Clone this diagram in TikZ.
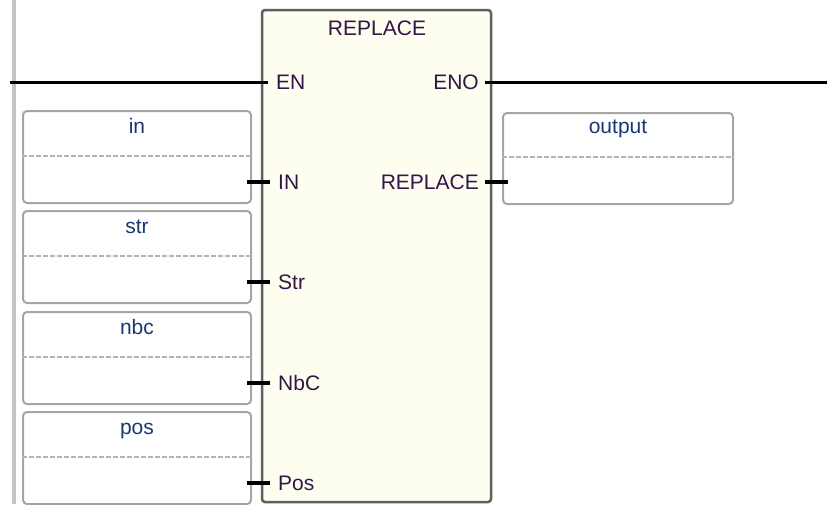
\documentclass[tikz,border=0pt]{standalone}
\usepackage{fontspec}
\setmainfont{Liberation Sans}
\usetikzlibrary{calc}
\definecolor{railgray}{RGB}{196,196,196}
\definecolor{boxgray}{RGB}{165,165,165}
\definecolor{dashgray}{RGB}{180,180,180}
\definecolor{blockborder}{RGB}{95,95,95}
\definecolor{blockfill}{RGB}{254,254,240}
\definecolor{pintext}{RGB}{50,20,70}
\definecolor{vartext}{RGB}{25,55,115}
\begin{document}
\begin{tikzpicture}[x=1pt,y=-1pt,
  font=\fontsize{21}{25}\selectfont,
  rail/.style={draw=railgray,line width=4pt},
  wire/.style={draw=black,line width=3pt},
  stub/.style={draw=black,line width=3.5pt},
  fblock/.style={draw=blockborder,fill=blockfill,line width=2.5pt,rounded corners=3pt,inner sep=0pt},
  varbox/.style={draw=boxgray,line width=2pt,rounded corners=4pt,minimum width=228pt,minimum height=92pt,inner sep=0pt},
  dashline/.style={draw=dashgray,line width=2pt,dash pattern=on 5pt off 2pt},
  pinlbl/.style={text=pintext,inner sep=0pt},
  varlbl/.style={text=vartext,inner sep=0pt,anchor=base}]
\useasboundingbox (0,0) rectangle (827,504);
\clip (0,0) rectangle (827,504);
% power rail
\coordinate (railtop) at (14,0);
\coordinate (railbot) at (14,504);
\draw[rail] (railtop) -- (railbot);
% function block
\node[fblock,minimum width=229pt,minimum height=492pt] (fb) at (376.5,256) {};
\node[pinlbl,anchor=base] (ttl) at (377,35) {REPLACE};
% EN / ENO
\node[pinlbl,anchor=base west] (en) at (276,89.5) {EN};
\node[pinlbl,anchor=base east] (eno) at (479,89.5) {ENO};
\coordinate (enstart) at (10,82);
\coordinate (enpin) at (268,82);
\coordinate (enopin) at (485,82);
\coordinate (enoend) at (827,82);
\draw[wire] (enstart) -- (enpin);
\draw[wire] (enopin) -- (enoend);
% input variables
\foreach \nm/\lbl/\top/\pin in {vin/in/110/IN, vstr/str/210/Str, vnbc/nbc/311/NbC, vpos/pos/411/Pos}{
  \node[varbox,anchor=north west] (\nm) at (22,\top) {};
  \node[varlbl] (\nm-l) at ($(\nm.north)+(0,23)$) {\lbl};
  \draw[dashline] ($(\nm.north west)+(0,46)$) -- ($(\nm.north east)+(0,46)$);
  \coordinate (\nm-s) at ($(\nm.north east)+(-5,72)$);
  \coordinate (\nm-e) at ($(\nm.north east)+(18,72)$);
  \draw[stub] (\nm-s) -- (\nm-e);
  \node[pinlbl,anchor=base west] (\nm-p) at ($(\nm.north east)+(26,79.5)$) {\pin};
}
% output variable
\node[varbox,anchor=north west,minimum width=230pt,minimum height=91pt] (vout) at (502,112) {};
\node[varlbl] (vout-l) at ($(vout.north)+(0,21)$) {output};
\draw[dashline] ($(vout.north west)+(0,45)$) -- ($(vout.north east)+(0,45)$);
\node[pinlbl,anchor=base east] (rep) at (479,189.5) {REPLACE};
\coordinate (reps) at (485,182);
\coordinate (repe) at (508,182);
\draw[stub] (reps) -- (repe);
\end{tikzpicture}
\end{document}
